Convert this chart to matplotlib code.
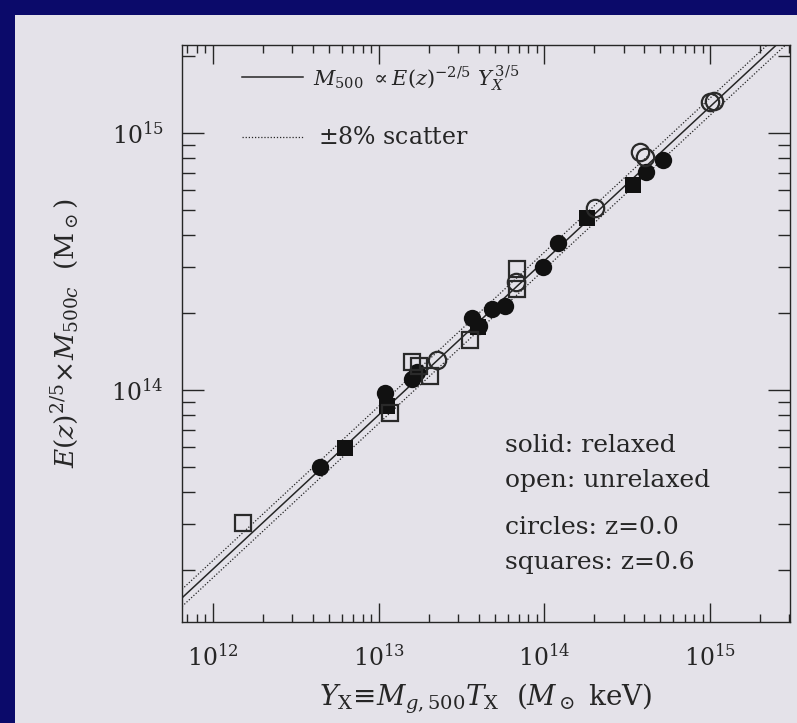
import matplotlib
matplotlib.use('Agg')
import matplotlib.pyplot as pyplot
import matplotlib.ticker as ticker
from matplotlib.patches import Rectangle
import numpy as np

# ------------------------------------------------------------------------------
# Y_X (M_sun keV) and E(z)^(2/5) M_500c (M_sun) for the simulated clusters
#
relaxed_z0_Y = [4.43e12, 1.09e13, 1.59e13, 1.70e13, 3.66e13, 4.03e13, 4.83e13,
                5.78e13, 9.82e13, 1.21e14, 4.10e14, 5.20e14]
relaxed_z0_M = [5.01e13, 9.73e13, 1.10e14, 1.17e14, 1.91e14, 1.77e14, 2.07e14,
                2.12e14, 3.01e14, 3.73e14, 7.05e14, 7.85e14]

relaxed_z06_Y = [6.27e12, 1.12e13, 3.97e13, 1.81e14, 3.43e14]
relaxed_z06_M = [5.94e13, 8.67e13, 1.76e14, 4.67e14, 6.28e14]

unrelaxed_z0_Y = [2.25e13, 6.75e13, 2.02e14, 3.78e14, 4.05e14, 9.97e14, 1.06e15]
unrelaxed_z0_M = [1.31e14, 2.63e14, 5.11e14, 8.43e14, 8.07e14, 1.32e15, 1.33e15]

unrelaxed_z06_Y = [1.52e12, 1.17e13, 1.59e13, 1.75e13, 2.04e13, 3.56e13,
                   6.84e13, 6.84e13]
unrelaxed_z06_M = [3.03e13, 8.14e13, 1.28e14, 1.24e14, 1.13e14, 1.57e14,
                   2.96e14, 2.47e14]

# M_500 = 10**norm_log * Y_X**slope, with +-8% scatter
norm_log = 6.103
slope = 3.0 / 5.0
scatter = 0.08

x_ticks = [1e12, 1e13, 1e14, 1e15]
x_tick_labels = [r'$10^{12}$', r'$10^{13}$', r'$10^{14}$', r'$10^{15}$']
y_ticks = [1e14, 1e15]
y_tick_labels = [r'$10^{14}$', r'$10^{15}$']

x_axis_range = [6.5e11, 3.03e15]
y_axis_range = [1.25e13, 2.2e15]

slide_color = '#e4e2e9'
border_color = '#0b0a6a'
ink = '#262626'

pyplot.rcParams['font.family'] = ['DejaVu Serif']
pyplot.rcParams['mathtext.fontset'] = 'dejavuserif'

W, H = 797, 723
figure = pyplot.figure(figsize=(W / 100, H / 100), dpi=100)
figure.patch.set_facecolor(border_color)
figure.patches.append(Rectangle((15 / W, 0), 1, 1 - 15 / H,
                                transform=figure.transFigure,
                                facecolor=slide_color, edgecolor='none',
                                zorder=-10))

axes = figure.add_axes([182 / W, 1 - 622 / H, 608 / W, 577 / H])
axes.set_facecolor(slide_color)
axes.set_xscale('log')
axes.set_yscale('log')

# ------------------------------------------------------------------------------
# Scaling relation
#
x_line = np.logspace(np.log10(x_axis_range[0]), np.log10(x_axis_range[1]), 50)
y_line = 10 ** norm_log * x_line ** slope
axes.plot(x_line, y_line, color=ink, lw=1.1)
axes.plot(x_line, y_line * (1 + scatter), color=ink, lw=0.9, ls=(0, (1, 1.5)))
axes.plot(x_line, y_line / (1 + scatter), color=ink, lw=0.9, ls=(0, (1, 1.5)))

# ------------------------------------------------------------------------------
# Clusters
#
axes.plot(relaxed_z0_Y, relaxed_z0_M, 'o', ms=12.5, color='#111111', mew=0)
axes.plot(relaxed_z06_Y, relaxed_z06_M, 's', ms=11, color='#111111', mew=0)
axes.plot(unrelaxed_z0_Y, unrelaxed_z0_M, 'o', ms=12.5, mfc='none',
          mec='#2a2a2a', mew=1.6)
axes.plot(unrelaxed_z06_Y, unrelaxed_z06_M, 's', ms=11, mfc='none',
          mec='#2a2a2a', mew=1.6)

axes.set_xlim(x_axis_range)
axes.set_ylim(y_axis_range)

axes.set_xticks(x_ticks)
axes.set_xticklabels(x_tick_labels)
axes.set_yticks(y_ticks)
axes.set_yticklabels(y_tick_labels)
axes.xaxis.set_minor_locator(ticker.LogLocator(subs=np.arange(2, 10)))
axes.yaxis.set_minor_locator(ticker.LogLocator(subs=np.arange(2, 10)))
axes.xaxis.set_minor_formatter(ticker.NullFormatter())
axes.yaxis.set_minor_formatter(ticker.NullFormatter())

axes.tick_params(which='both', direction='in', top=True, right=True,
                 color=ink, width=1.0, labelcolor=ink, labelsize=17)
axes.tick_params(axis='x', which='major', length=14, pad=16)
axes.tick_params(axis='x', which='minor', length=6)
axes.tick_params(axis='y', which='major', length=16, pad=13)
axes.tick_params(axis='y', which='minor', length=9)
for spine in axes.spines.values():
    spine.set_color(ink)
    spine.set_linewidth(1.0)

axes.set_xlabel(r'$Y_{\rm X}\!\equiv\!M_{g,500}T_{\rm X}\ \ (M_\odot\ {\rm keV})$',
                fontsize=20, color=ink, labelpad=8)
axes.set_ylabel(r'$E(z)^{2/5}\!\times\!M_{500c}\ \ ({\rm M}_\odot)$',
                fontsize=19, color=ink, labelpad=22)

# ------------------------------------------------------------------------------
# Key and notes
#
axes.plot([(242 - 182) / 608, (303 - 182) / 608], [1 - 32 / 577] * 2,
          transform=axes.transAxes, color=ink, lw=1.1)
axes.plot([(242 - 182) / 608, (303 - 182) / 608], [1 - 92 / 577] * 2,
          transform=axes.transAxes, color=ink, lw=0.9, ls=(0, (1, 1.5)))
figure.text(313 / W, 1 - 86 / H,
            r'$M_{500}\ \propto E(z)^{-2/5}\ Y_{X}^{\,3/5}$',
            fontsize=15, color=ink, va='baseline')
figure.text(318 / W, 1 - 137 / H, r'$\pm$8% scatter',
            fontsize=17, color=ink, va='center')

notes = ['solid: relaxed', 'open: unrelaxed', 'circles: z=0.0', 'squares: z=0.6']
notes_y = [445, 480, 528, 562]
for note, y in zip(notes, notes_y):
    figure.text(505 / W, 1 - y / H, note, fontsize=18, color=ink, va='center')

pyplot.savefig('out.png', dpi=100, facecolor=figure.get_facecolor())
